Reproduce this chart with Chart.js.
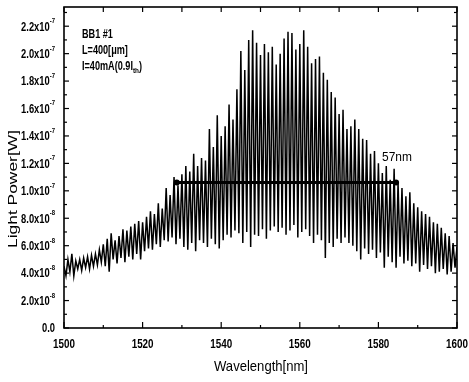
<!DOCTYPE html>
<html>
<head>
<meta charset="utf-8">
<script src="https://cdn.jsdelivr.net/npm/chart.js@4.4.1/dist/chart.umd.min.js"></script>
<style>
  html, body { margin: 0; padding: 0; background: #fff; }
  canvas { display: block; }
</style>
</head>
<body>
<canvas id="spec" width="469" height="382"></canvas>
<script>
// Spectrum: mode peaks at whole nm, valleys in between
// power is in units of 1e-8 W
const wavelength = [
  1500, 1500.5, 1501, 1501.5, 1502, 1502.5, 1503, 1503.5, 1504, 1504.5,
  1505, 1505.5, 1506, 1506.5, 1507, 1507.5, 1508, 1508.5, 1509, 1509.5,
  1510, 1510.5, 1511, 1511.5, 1512, 1512.5, 1513, 1513.5, 1514, 1514.5,
  1515, 1515.5, 1516, 1516.5, 1517, 1517.5, 1518, 1518.5, 1519, 1519.5,
  1520, 1520.5, 1521, 1521.5, 1522, 1522.5, 1523, 1523.5, 1524, 1524.5,
  1525, 1525.5, 1526, 1526.5, 1527, 1527.5, 1528, 1528.5, 1529, 1529.5,
  1530, 1530.5, 1531, 1531.5, 1532, 1532.5, 1533, 1533.5, 1534, 1534.5,
  1535, 1535.5, 1536, 1536.5, 1537, 1537.5, 1538, 1538.5, 1539, 1539.5,
  1540, 1540.5, 1541, 1541.5, 1542, 1542.5, 1543, 1543.5, 1544, 1544.5,
  1545, 1545.5, 1546, 1546.5, 1547, 1547.5, 1548, 1548.5, 1549, 1549.5,
  1550, 1550.5, 1551, 1551.5, 1552, 1552.5, 1553, 1553.5, 1554, 1554.5,
  1555, 1555.5, 1556, 1556.5, 1557, 1557.5, 1558, 1558.5, 1559, 1559.5,
  1560, 1560.5, 1561, 1561.5, 1562, 1562.5, 1563, 1563.5, 1564, 1564.5,
  1565, 1565.5, 1566, 1566.5, 1567, 1567.5, 1568, 1568.5, 1569, 1569.5,
  1570, 1570.5, 1571, 1571.5, 1572, 1572.5, 1573, 1573.5, 1574, 1574.5,
  1575, 1575.5, 1576, 1576.5, 1577, 1577.5, 1578, 1578.5, 1579, 1579.5,
  1580, 1580.5, 1581, 1581.5, 1582, 1582.5, 1583, 1583.5, 1584, 1584.5,
  1585, 1585.5, 1586, 1586.5, 1587, 1587.5, 1588, 1588.5, 1589, 1589.5,
  1590, 1590.5, 1591, 1591.5, 1592, 1592.5, 1593, 1593.5, 1594, 1594.5,
  1595, 1595.5, 1596, 1596.5, 1597, 1597.5, 1598, 1598.5, 1599, 1599.5,
  1600
];
const power = [
  4.5, 3.8, 5.0, 4.1, 5.4, 3.8, 4.9, 4.3, 5.0, 4.2,
  5.1, 4.4, 5.2, 4.3, 5.3, 4.5, 5.4, 4.6, 5.7, 4.8,
  6.1, 4.5, 6.5, 4.1, 6.9, 5.0, 6.4, 4.7, 6.7, 5.1,
  7.2, 4.8, 7.1, 5.2, 7.4, 5.0, 7.6, 5.4, 7.8, 5.0,
  7.7, 5.6, 8.1, 5.8, 8.5, 5.7, 8.3, 6.1, 9.1, 5.9,
  8.7, 6.4, 10.2, 6.3, 9.7, 6.6, 11.0, 6.1, 10.4, 6.5,
  11.2, 5.9, 11.8, 5.7, 11.4, 6.2, 12.7, 5.6, 11.8, 6.4,
  12.4, 6.2, 12.2, 5.9, 14.5, 6.5, 13.2, 6.1, 15.5, 5.8,
  14.0, 6.4, 14.7, 6.8, 16.3, 6.6, 15.2, 7.1, 17.4, 6.9,
  20.2, 6.2, 18.8, 7.0, 21.0, 5.9, 21.7, 6.8, 20.8, 6.7,
  19.9, 7.2, 20.7, 6.5, 20.1, 7.1, 20.5, 7.4, 19.2, 7.0,
  20.0, 7.3, 21.1, 6.8, 21.6, 7.1, 21.5, 7.5, 20.3, 6.6,
  20.7, 7.0, 21.7, 7.2, 20.5, 6.7, 19.3, 6.2, 19.6, 6.8,
  19.8, 6.4, 18.6, 5.1, 18.1, 6.2, 17.2, 5.9, 16.8, 6.5,
  15.6, 6.2, 15.9, 6.6, 14.5, 6.2, 14.7, 6.0, 15.2, 5.6,
  14.5, 5.0, 13.8, 5.8, 13.7, 5.4, 12.7, 5.7, 12.9, 5.1,
  12.0, 5.5, 11.3, 4.4, 11.8, 5.2, 10.8, 4.8, 11.6, 4.4,
  10.6, 5.2, 10.2, 4.7, 9.6, 4.9, 9.9, 4.5, 9.1, 4.7,
  8.8, 4.1, 8.5, 4.6, 8.3, 4.3, 8.1, 4.5, 7.7, 4.0,
  7.6, 4.1, 7.3, 4.3, 6.9, 3.9, 6.7, 4.1, 6.2, 4.4,
  5.9
];

// width marker (the 57nm bar)
const widthX = [1528.7, 1584.5];
const widthY = [10.6, 10.6];

const xTicks = [1500, 1520, 1540, 1560, 1580, 1600];
const xMinor = [1510, 1530, 1550, 1570, 1590];
const yTicks = [0, 2, 4, 6, 8, 10, 12, 14, 16, 18, 20, 22];
const yMant = ['0.0', '2.0x10', '4.0x10', '6.0x10', '8.0x10', '1.0x10', '1.2x10', '1.4x10', '1.6x10', '1.8x10', '2.0x10', '2.2x10'];
const yExp = ['', '-8', '-8', '-8', '-8', '-7', '-7', '-7', '-7', '-7', '-7', '-7'];

const FONT = '"Liberation Sans", Arial, sans-serif';

function seg(ctx, x1, y1, x2, y2) {
  ctx.beginPath(); ctx.moveTo(x1, y1); ctx.lineTo(x2, y2); ctx.stroke();
}

// text squeezed sideways, the original uses a narrow face
function txt(ctx, s, x, y, font, sx, align) {
  ctx.save();
  ctx.font = font;
  ctx.translate(x, y);
  ctx.scale(sx, 1);
  ctx.textAlign = align;
  ctx.fillText(s, 0, 0);
  const w = ctx.measureText(s).width * sx;
  ctx.restore();
  return w;
}

const decor = {
  id: 'decor',
  afterDraw(chart) {
    const { ctx, chartArea: a, scales: { x, y } } = chart;
    ctx.save();
    ctx.strokeStyle = '#000';
    ctx.fillStyle = '#000';
    ctx.textBaseline = 'middle';

    // frame
    ctx.lineWidth = 1.6;
    ctx.strokeRect(a.left, a.top, a.right - a.left, a.bottom - a.top);

    // inward ticks
    ctx.lineWidth = 1.2;
    xTicks.forEach(v => {
      const px = x.getPixelForValue(v);
      seg(ctx, px, a.bottom, px, a.bottom - 6);
      seg(ctx, px, a.top, px, a.top + 5);
    });
    xMinor.forEach(v => {
      const px = x.getPixelForValue(v);
      seg(ctx, px, a.bottom, px, a.bottom - 3);
      seg(ctx, px, a.top, px, a.top + 5);
    });
    for (let v = 0; v <= 23; v++) {
      const py = y.getPixelForValue(v);
      const len = v % 2 === 0 ? 5 : 3;
      seg(ctx, a.left, py, a.left + len, py);
      seg(ctx, a.right, py, a.right - len, py);
    }

    // x tick labels
    xTicks.forEach(v => txt(ctx, String(v), x.getPixelForValue(v), 345, 'bold 12px ' + FONT, 0.82, 'center'));

    // y tick labels with superscript exponent
    yTicks.forEach((v, i) => {
      const py = y.getPixelForValue(v);
      let right = 55;
      if (yExp[i]) right -= txt(ctx, yExp[i], right, py - 5, 'bold 7px ' + FONT, 0.85, 'right');
      txt(ctx, yMant[i], right, py + 1, 'bold 12px ' + FONT, 0.78, 'right');
    });

    // axis titles, stretched to the lengths they have in the original
    ctx.font = '15px ' + FONT;
    const xt = 'Wavelength[nm]';
    txt(ctx, xt, 261, 367, ctx.font, 94 / ctx.measureText(xt).width, 'center');
    ctx.save();
    ctx.translate(13, 189);
    ctx.rotate(-Math.PI / 2);
    ctx.font = '13px ' + FONT;
    const yt = 'Light Power[W]';
    txt(ctx, yt, 0, 0, ctx.font, 118 / ctx.measureText(yt).width, 'center');
    ctx.restore();

    // sample notes
    const f = 'bold 12px ' + FONT;
    txt(ctx, 'BB1 #1', 82, 35, f, 0.76, 'left');
    txt(ctx, 'L=400[\u03bcm]', 82, 51, f, 0.76, 'left');
    let w = txt(ctx, 'I=40mA(0.9I', 82, 67, f, 0.76, 'left');
    w += txt(ctx, 'th', 82 + w, 71, 'bold 8px ' + FONT, 0.8, 'left');
    txt(ctx, ')', 82 + w, 67, f, 0.76, 'left');

    txt(ctx, '57nm', 382, 157, '13px ' + FONT, 0.92, 'left');
    ctx.restore();
  }
};

new Chart(document.getElementById('spec'), {
  type: 'line',
  data: {
    datasets: [
      {
        data: wavelength.map((w, i) => ({ x: w, y: power[i] })),
        borderColor: '#000',
        borderWidth: 1.5,
        pointRadius: 0,
        tension: 0
      },
      {
        data: widthX.map((w, i) => ({ x: w, y: widthY[i] })),
        borderColor: '#000',
        backgroundColor: '#000',
        borderWidth: 3,
        pointRadius: 1.5,
        tension: 0
      }
    ]
  },
  options: {
    responsive: false,
    animation: false,
    layout: { padding: { top: 5, right: 12, left: 0, bottom: 0 } },
    plugins: { legend: { display: false }, tooltip: { enabled: false } },
    scales: {
      x: {
        type: 'linear', min: 1500, max: 1600,
        ticks: { display: false }, grid: { display: false }, border: { display: false },
        afterFit: s => { s.height = 54; }
      },
      y: {
        min: 0, max: 23.4,
        ticks: { display: false }, grid: { display: false }, border: { display: false },
        afterFit: s => { s.width = 64; }
      }
    }
  },
  plugins: [decor]
});
</script>
</body>
</html>
